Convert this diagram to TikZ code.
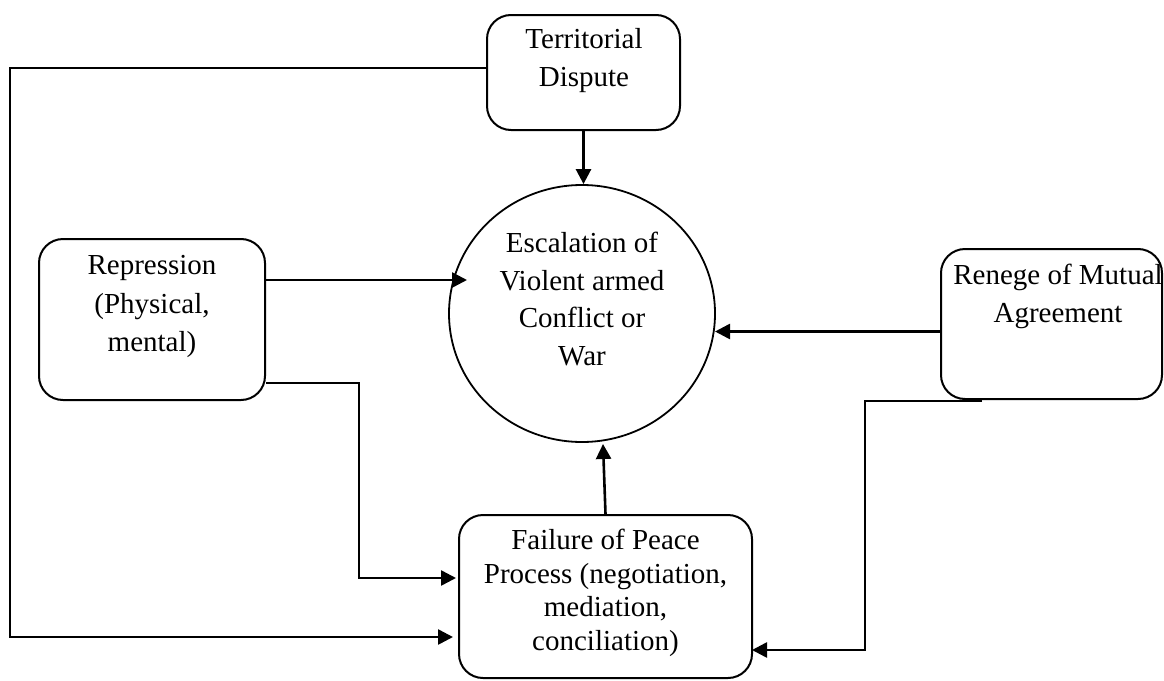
\documentclass[tikz,border=0pt]{standalone}
\usepackage{fontspec}
\setmainfont{Liberation Serif}
\usetikzlibrary{arrows.meta,shapes.geometric,calc}
\begin{document}
\begin{tikzpicture}[x=1pt,y=-1pt,
  box/.style={draw, line width=2pt, rounded corners=24pt, inner sep=0pt},
  txt/.style={align=center, inner sep=0pt, font=\fontsize{29}{38.5}\selectfont},
  arr/.style={line width=2.6pt, -{Triangle[length=15pt,width=15pt]}}]
\useasboundingbox (0,0) rectangle (1164,680);

% boxes
\node[box, minimum width=193pt, minimum height=115pt] (terr) at (583.5,72.5) {};
\node[box, minimum width=226pt, minimum height=161pt] (rep) at (152,319.5) {};
\node[box, minimum width=221pt, minimum height=150pt] (ren) at (1051.5,324) {};
\node[box, minimum width=293pt, minimum height=163pt] (fail) at (605.5,596.5) {};
\node[draw, ellipse, line width=1.8pt, minimum width=266pt, minimum height=257pt, inner sep=0pt] (esc) at (582,313.5) {};

% texts
\node[txt] (terrtxt) at (584,60.5) {Territorial\\Dispute};
\node[txt] (reptxt) at (152,306.5) {Repression\\(Physical,\\mental)};
\node[txt] (rentxt) at (1058,296.5) {Renege of Mutual\\Agreement};
\node[txt, font=\fontsize{29}{33.7}\selectfont] (failtxt) at (605.5,593)
  {Failure of Peace\\Process (negotiation,\\mediation,\\conciliation)};
\node[txt, font=\fontsize{29}{37.7}\selectfont] (esctxt) at (582,299)
  {Escalation of\\Violent armed\\Conflict or\\War};

% connector end points
\coordinate (escW) at (467,280);
\coordinate (escE) at (715,331.5);
\coordinate (escS) at (603,444);
\coordinate (bendR) at (359,383);
\coordinate (failL1) at (456,578);
\coordinate (loopTL) at (10,68);
\coordinate (failL2) at (453,637);
\coordinate (renOut) at (982,401);
\coordinate (bendRen) at (865,401);
\coordinate (failR) at (752,650);

% connectors
\draw[arr] (terr.south) -- (terr.south |- esc.north);
\draw[arr] (rep.east |- escW) -- (escW);
\draw[arr] (ren.west |- escE) -- (escE);
\draw[arr] (fail.north) -- (escS);
\draw[arr] (rep.east |- bendR) -- (bendR) |- (failL1);
\draw[arr] (terr.west |- loopTL) -- (loopTL) |- (failL2);
\draw[arr] (renOut) -- (bendRen) |- (failR);
\end{tikzpicture}
\end{document}
